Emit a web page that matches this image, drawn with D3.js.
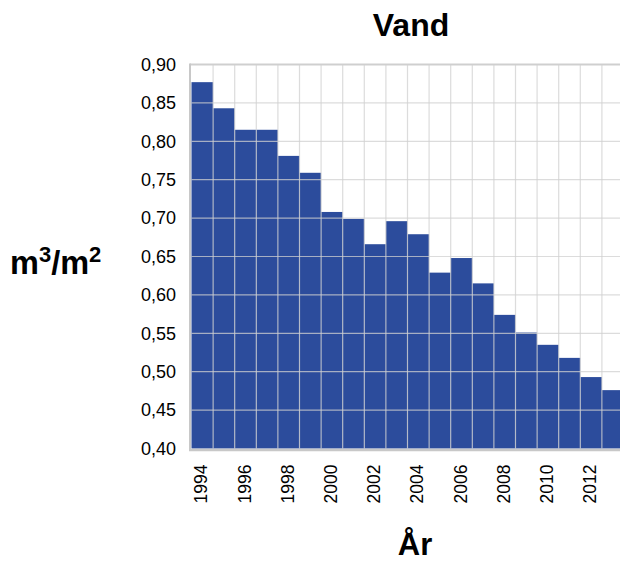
<!DOCTYPE html>
<html>
<head>
<meta charset="utf-8">
<script src="https://cdn.jsdelivr.net/npm/d3@7"></script>
<style>
  html, body { margin: 0; padding: 0; background: #fff; }
  svg { display: block; font-family: "Liberation Sans", Arial, sans-serif; }
</style>
</head>
<body>
<svg id="chart" width="620" height="562"></svg>
<script>
// Water consumption per m² by year
const years = [1994, 1995, 1996, 1997, 1998, 1999, 2000, 2001, 2002, 2003,
               2004, 2005, 2006, 2007, 2008, 2009, 2010, 2011, 2012, 2013];
const values = [0.877, 0.843, 0.815, 0.815, 0.781, 0.759, 0.708, 0.699, 0.666, 0.696,
                0.679, 0.629, 0.648, 0.615, 0.574, 0.551, 0.535, 0.518, 0.493, 0.476];
const yTicks = [0.40, 0.45, 0.50, 0.55, 0.60, 0.65, 0.70, 0.75, 0.80, 0.85, 0.90];
const xLabelYears = [1994, 1996, 1998, 2000, 2002, 2004, 2006, 2008, 2010, 2012];

const svg = d3.select("#chart");
const plotLeft = 191.5, plotRight = 623.5, plotTop = 64.5, plotBottom = 448.5;

const x = d3.scaleBand().domain(years).range([plotLeft, plotRight]).padding(0);
const y = d3.scaleLinear().domain([0.40, 0.90]).range([plotBottom, plotTop]);
const fmt = v => d3.format(".2f")(v).replace(".", ",");

// bars
svg.append("g").selectAll("rect").data(years).join("rect")
  .attr("x", d => x(d))
  .attr("y", (d, i) => y(values[i]))
  .attr("width", x.bandwidth())
  .attr("height", (d, i) => y(0.40) - y(values[i]))
  .attr("fill", "#2c4c9c");

// grid drawn over the bars
const grid = svg.append("g").attr("stroke", "#d0d0d0").attr("stroke-opacity", 0.75).attr("stroke-width", 1.2);
grid.selectAll("line.h").data(yTicks.slice(1, -1)).join("line")
  .attr("x1", plotLeft).attr("x2", 620)
  .attr("y1", d => y(d)).attr("y2", d => y(d));
grid.selectAll("line.v").data(years.slice(1)).join("line")
  .attr("x1", d => x(d)).attr("x2", d => x(d))
  .attr("y1", plotTop).attr("y2", plotBottom);

// frame lines
svg.append("line").attr("x1", plotLeft - 1.5).attr("x2", 620).attr("y1", y(0.90)).attr("y2", y(0.90))
  .attr("stroke", "#cfcfcf").attr("stroke-width", 2);
svg.append("line").attr("x1", plotLeft - 1.5).attr("x2", plotLeft - 1.5).attr("y1", plotTop - 1).attr("y2", plotBottom + 2)
  .attr("stroke", "#c8c8c8").attr("stroke-width", 2);
svg.append("line").attr("x1", plotLeft - 2.5).attr("x2", 620).attr("y1", plotBottom + 1.5).attr("y2", plotBottom + 1.5)
  .attr("stroke", "#c8c8c8").attr("stroke-width", 2.5);

// y axis labels
const yAxis = d3.axisLeft(y).tickValues(yTicks).tickFormat(fmt).tickSize(0).tickPadding(14);
const gy = svg.append("g").attr("transform", `translate(${plotLeft - 1.5},0)`).call(yAxis);
gy.select(".domain").remove();
gy.selectAll("text").attr("font-size", 18).attr("fill", "#000").attr("font-family", "Liberation Sans, Arial, sans-serif");

// x axis labels, rotated, every second year
const xAxis = d3.axisBottom(x).tickValues(xLabelYears).tickSize(0).tickPadding(0);
const gx = svg.append("g").attr("transform", `translate(0,${plotBottom})`).call(xAxis);
gx.select(".domain").remove();
gx.selectAll("text")
  .attr("font-size", 17.5).attr("fill", "#000").attr("font-family", "Liberation Sans, Arial, sans-serif")
  .attr("text-anchor", "end")
  .attr("transform", "translate(-1,16) rotate(-90)")
  .attr("x", 0).attr("y", 0).attr("dy", "0.35em");

// title
svg.append("text").attr("x", 411).attr("y", 36).attr("text-anchor", "middle")
  .attr("font-size", 32).attr("font-weight", "bold").attr("fill", "#000").text("Vand");

// y axis title
const yt = svg.append("text").attr("x", 10).attr("y", 274)
  .attr("font-size", 32.5).attr("font-weight", "bold").attr("fill", "#000");
yt.append("tspan").text("m");
yt.append("tspan").attr("font-size", 22).attr("dy", -12).text("3");
yt.append("tspan").attr("dy", 12).text("/m");
yt.append("tspan").attr("font-size", 22).attr("dy", -12).text("2");

// x axis title
svg.append("text").attr("x", 415).attr("y", 555).attr("text-anchor", "middle")
  .attr("font-size", 31).attr("font-weight", "bold").attr("fill", "#000").text("År");
</script>
</body>
</html>
